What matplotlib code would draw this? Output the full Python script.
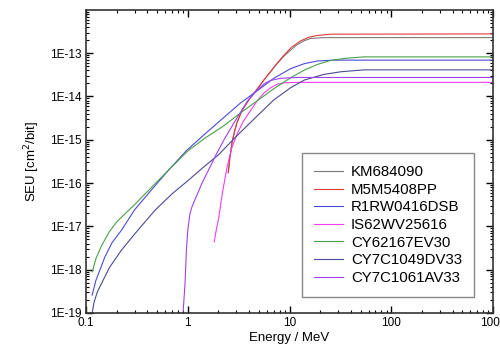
import matplotlib
matplotlib.use("Agg")
import matplotlib.pyplot as plt
from matplotlib.ticker import LogLocator, FixedLocator, FixedFormatter, NullFormatter

plt.rcParams['font.family'] = ['Liberation Sans', 'DejaVu Sans']

# energy [MeV] and SEU cross section [cm^2/bit]
E_km = [2.5, 2.6, 2.73, 2.9, 3.05, 3.4, 4.0, 4.81, 5.6, 6.5, 7.5, 8.8, 10, 11.9, 14, 16.1, 21.8, 1000]
s_km = [1.74e-16, 3.98e-16, 8.91e-16, 1.66e-15, 2.51e-15, 4.68e-15, 8.51e-15, 1.48e-14, 2.4e-14,
        3.72e-14, 5.62e-14, 8.51e-14, 1.12e-13, 1.58e-13, 1.95e-13, 2.19e-13, 2.29e-13, 2.29e-13]

E_m5 = [2.5, 2.6, 2.73, 2.9, 3.05, 3.4, 4.0, 4.81, 5.6, 6.5, 7.5, 8.8, 10.5, 12.8, 15.5, 18.8, 25.3, 1000]
s_m5 = [1.74e-16, 3.98e-16, 8.91e-16, 1.66e-15, 2.51e-15, 4.68e-15, 8.51e-15, 1.48e-14, 2.4e-14,
        3.72e-14, 5.75e-14, 8.91e-14, 1.38e-13, 1.91e-13, 2.34e-13, 2.57e-13, 2.75e-13, 2.79e-13]

E_r1 = [0.115, 0.125, 0.14, 0.153, 0.18, 0.223, 0.3, 0.45, 0.643, 0.97, 1.5, 2.25, 3.3, 4.81,
        7, 10.2, 14, 18.8, 27.3, 1000]
s_r1 = [2.57e-19, 5.62e-19, 1.12e-18, 1.95e-18, 4.17e-18, 8.13e-18, 2.4e-17, 7.41e-17, 1.95e-16,
        5.62e-16, 1.41e-15, 3.24e-15, 7.08e-15, 1.35e-14, 2.63e-14, 4.37e-14, 5.75e-14, 6.61e-14,
        6.92e-14, 6.92e-14]

E_is = [1.82, 1.9, 2.01, 2.2, 2.43, 2.7, 3.05, 3.5, 4.13, 4.81, 5.6, 6.5, 7.5, 8.8, 12, 1000]
s_is = [4.37e-18, 7.94e-18, 1.51e-17, 6.31e-17, 2.29e-16, 6.31e-16, 1.35e-15, 2.63e-15, 4.68e-15,
        7.94e-15, 1.2e-14, 1.58e-14, 1.91e-14, 2.07e-14, 2.12e-14, 2.12e-14]

E_cy62 = [0.115, 0.125, 0.142, 0.17, 0.2, 0.223, 0.3, 0.475, 0.7, 1.01, 1.5, 2.25, 3.3, 4.81,
          7, 10.2, 14, 18.8, 25, 35, 53.6, 1000]
s_cy62 = [8.9e-19, 1.78e-18, 3.55e-18, 7.6e-18, 1.26e-17, 1.62e-17, 3.16e-17, 9.55e-17, 2.4e-16,
          5.62e-16, 1.12e-15, 2.09e-15, 4.17e-15, 7.94e-15, 1.51e-14, 2.69e-14, 4.07e-14, 5.5e-14,
          6.76e-14, 7.59e-14, 8.22e-14, 8.22e-14]

E_cy49 = [0.115, 0.12, 0.13, 0.142, 0.17, 0.223, 0.3, 0.475, 0.7, 1.01, 1.4, 2.0, 3.0, 4.81,
          7, 10.2, 14, 21.8, 31.8, 53.6, 1000]
s_cy49 = [1.0e-19, 1.78e-19, 3.16e-19, 4.79e-19, 1.12e-18, 2.82e-18, 6.61e-18, 2.34e-17, 5.62e-17,
          1.15e-16, 2.24e-16, 4.47e-16, 1.2e-15, 3.55e-15, 8.32e-15, 1.58e-14, 2.4e-14, 3.24e-14,
          3.72e-14, 4.12e-14, 4.12e-14]

E_cy61 = [0.9, 0.92, 0.94, 0.97, 1.0, 1.05, 1.1, 1.18, 1.37, 1.6, 1.94, 2.3, 2.83, 3.83, 4.81,
          5.7, 6.5, 8.15, 12, 1000]
s_cy61 = [1.0e-19, 2.24e-19, 4.79e-19, 2.82e-18, 7.94e-18, 1.95e-17, 2.82e-17, 4.17e-17, 9.55e-17,
          2.0e-16, 5.01e-16, 1.05e-15, 2.4e-15, 7.59e-15, 1.41e-14, 2.0e-14, 2.34e-14, 2.63e-14,
          2.75e-14, 2.75e-14]

labels = ["KM684090", "M5M5408PP", "R1RW0416DSB", "IS62WV25616",
          "CY62167EV30", "CY7C1049DV33", "CY7C1061AV33"]
colors = ["#7a7a7a", "#e03a3a", "#4a4ad8", "#f040f0", "#4aa04a", "#4a4a96", "#a040f0"]
series = [(E_km, s_km), (E_m5, s_m5), (E_r1, s_r1), (E_is, s_is),
          (E_cy62, s_cy62), (E_cy49, s_cy49), (E_cy61, s_cy61)]

fig = plt.figure(figsize=(5.0, 3.54), dpi=100)
ax = fig.add_axes([0.172, 0.116, 0.814, 0.856])

for (E, s), lab, c in zip(series, labels, colors):
    ax.plot(E, s, color=c, lw=0.8, label=lab)

ax.set_xscale('log')
ax.set_yscale('log')
ax.set_xlim(0.1, 1000)
ax.set_ylim(1e-19, 1e-12)

ax.xaxis.set_major_locator(FixedLocator([0.1, 1, 10, 100, 1000]))
ax.xaxis.set_major_formatter(FixedFormatter(["0.1", "1", "10", "100", "1000"]))
ax.xaxis.set_minor_locator(LogLocator(base=10, subs=range(2, 10), numticks=20))
ax.xaxis.set_minor_formatter(NullFormatter())

yt = [1e-19, 1e-18, 1e-17, 1e-16, 1e-15, 1e-14, 1e-13]
ax.yaxis.set_major_locator(FixedLocator(yt))
ax.yaxis.set_major_formatter(FixedFormatter(["1E-19", "1E-18", "1E-17", "1E-16", "1E-15", "1E-14", "1E-13"]))
ax.yaxis.set_minor_locator(LogLocator(base=10, subs=range(2, 10), numticks=20))
ax.yaxis.set_minor_formatter(NullFormatter())

ax.tick_params(which='both', direction='in', top=True, right=True, labelsize=8.5, pad=3)
ax.tick_params(which='major', length=5, width=1)
ax.tick_params(which='minor', length=2.5, width=0.8)
for sp in ax.spines.values():
    sp.set_linewidth(1.2)
    sp.set_color('#333333')

ax.set_xlabel("Energy / MeV", fontsize=9.5, labelpad=2)
ax.set_ylabel("SEU [cm$^2$/bit]", fontsize=9.5, labelpad=6)

leg = ax.legend(loc='lower right', bbox_to_anchor=(0.953, 0.053), borderaxespad=0,
                fontsize=10.8, fancybox=False, edgecolor='#888888', framealpha=1,
                handlelength=1.9, handletextpad=0.55, labelspacing=0.24, borderpad=0.8)
leg.get_frame().set_linewidth(1.0)

fig.savefig("out.png", dpi=100)
